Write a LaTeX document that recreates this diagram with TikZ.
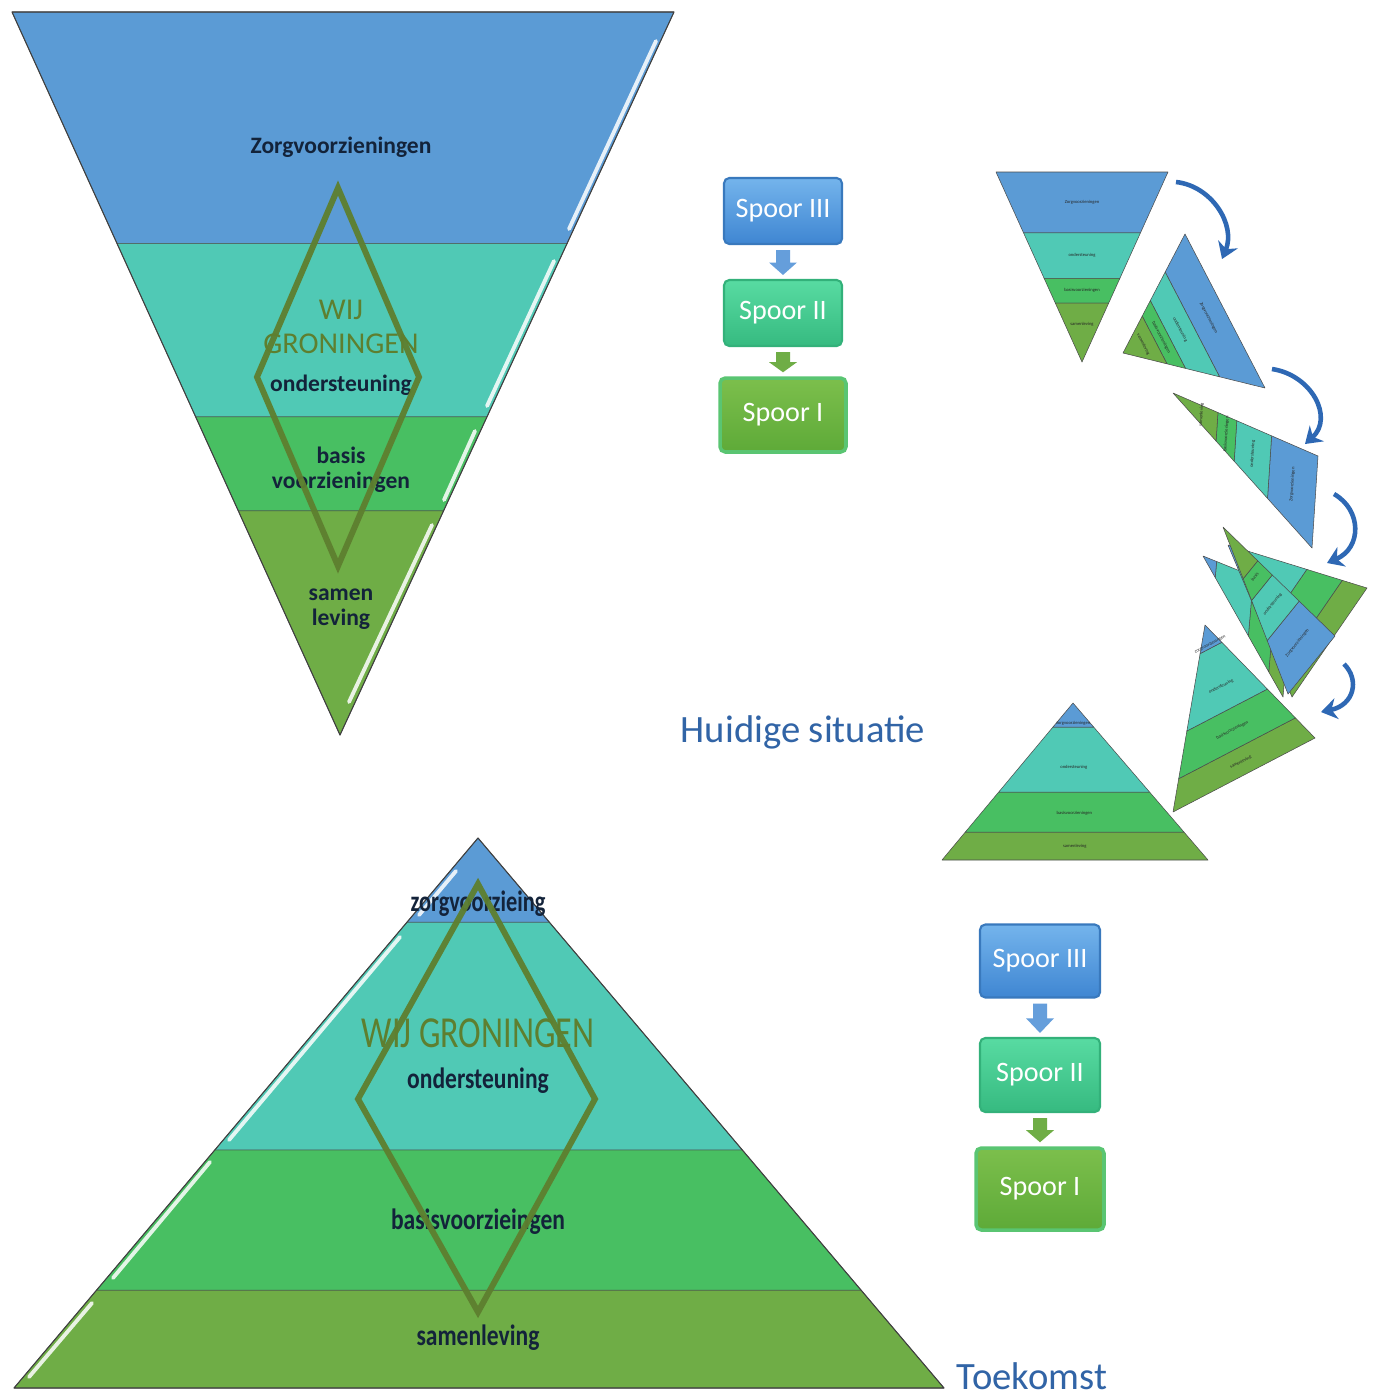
\documentclass[tikz,border=0pt]{standalone}
\usepackage{fontspec}
\setmainfont{Carlito}
\usetikzlibrary{calc,arrows.meta}
\definecolor{cblue}{HTML}{5B9BD5}
\definecolor{cteal}{HTML}{50C9B5}
\definecolor{cgreen}{HTML}{48BF62}
\definecolor{colive}{HTML}{6FAD46}
\definecolor{labc}{HTML}{13233A}
\definecolor{dia}{HTML}{5E7F2F}
\definecolor{titlec}{HTML}{3164A6}
\definecolor{arrc}{HTML}{2E68B4}
\definecolor{b3top}{HTML}{74B4EC}
\definecolor{b3bot}{HTML}{3F86D2}
\definecolor{b2top}{HTML}{58DBA2}
\definecolor{b2bot}{HTML}{36BA80}
\definecolor{b1top}{HTML}{7CBF4C}
\definecolor{b1bot}{HTML}{5EAA38}
\newcommand\bandpoly[6]{%
  \filldraw[band,fill=#6] ($(#1)!#4!(#3)$) -- ($(#2)!#4!(#3)$) -- ($(#2)!#5!(#3)$) -- ($(#1)!#5!(#3)$) -- cycle;}
\newcommand\invtri[3]{%
  \bandpoly{#1}{#2}{#3}{0}{0.32}{cblue}%
  \bandpoly{#1}{#2}{#3}{0.32}{0.56}{cteal}%
  \bandpoly{#1}{#2}{#3}{0.56}{0.69}{cgreen}%
  \bandpoly{#1}{#2}{#3}{0.69}{1}{colive}}
\newcommand\pyrtri[3]{%
  \bandpoly{#1}{#2}{#3}{0}{0.178}{colive}%
  \bandpoly{#1}{#2}{#3}{0.178}{0.433}{cgreen}%
  \bandpoly{#1}{#2}{#3}{0.433}{0.847}{cteal}%
  \bandpoly{#1}{#2}{#3}{0.847}{1}{cblue}}
\newcommand\blabel[6]{%
  \path ($(#2)!#5!(#4)$) -- ($(#3)!#5!(#4)$) node[midway,sloped,tinylab] (#1) {#6};}
\newcommand\invlabels[4]{%
  \blabel{#1-a}{#2}{#3}{#4}{0.16}{Zorgvoorzieningen}%
  \blabel{#1-b}{#2}{#3}{#4}{0.44}{ondersteuning}%
  \blabel{#1-c}{#2}{#3}{#4}{0.625}{basisvoorzieningen}%
  \blabel{#1-d}{#2}{#3}{#4}{0.8}{samenleving}}
\newcommand\pyrlabels[4]{%
  \blabel{#1-a}{#2}{#3}{#4}{0.085}{samenleving}%
  \blabel{#1-b}{#2}{#3}{#4}{0.30}{basisvoorzieningen}%
  \blabel{#1-c}{#2}{#3}{#4}{0.59}{ondersteuning}%
  \blabel{#1-d}{#2}{#3}{#4}{0.87}{zorgvoorzieningen}}
\newcommand\blockarrow[4]{%
  \coordinate (#1-t) at ($(#2.south)+(0,5)$);
  \coordinate (#1-u) at ($(#3.north)+(0,-4)$);
  \coordinate (#1-m) at ($(#1-t)!0.5!(#1-u)$);
  \fill[#4] ($(#1-t)+(-7,0)$) -- ($(#1-m)+(-7,0)$) -- ($(#1-m)+(-14,0)$) -- (#1-u) -- ($(#1-m)+(14,0)$) -- ($(#1-m)+(7,0)$) -- ($(#1-t)+(7,0)$) -- cycle;}
\tikzset{
  band/.style={draw=black!70,line width=0.3pt,line join=round},
  outline/.style={draw=black!75,line width=0.6pt,line join=round},
  gloss/.style={draw=white,opacity=0.85,line width=2.2pt,line cap=round},
  tinylab/.style={font=\fontsize{2.6}{3}\selectfont,text=black!85,inner sep=0pt},
  mainlab/.style={font=\bfseries\fontsize{13.4}{14.4}\selectfont,text=labc,align=center,inner sep=0pt},
  wijlab/.style={font=\fontsize{17.2}{19.4}\selectfont,text=dia,align=center,inner sep=0pt},
  diamond line/.style={draw=dia,line width=3.4pt,line join=miter,opacity=0.95},
  spoor/.style={rounded corners=3pt,line width=1.2pt,text=white,font=\fontsize{16}{18}\selectfont,inner sep=0pt},
  s3box/.style={spoor,draw=b3bot!90!black,top color=b3top,bottom color=b3bot},
  s2box/.style={spoor,draw=b2bot!95!black,top color=b2top,bottom color=b2bot},
  s1box/.style={spoor,line width=2pt,draw=cgreen!90!white,top color=b1top,bottom color=b1bot},
  carrow/.style={draw=arrc,line width=2.6pt,-{Stealth[length=9pt,width=12pt]}},
  title/.style={font=\fontsize{22}{24}\selectfont,text=titlec,inner sep=0pt}
}
\begin{document}
\begin{tikzpicture}[x=0.02cm,y=-0.02cm]
\useasboundingbox (0,0) rectangle (1378,1397);
\fill[white] (0,0) rectangle (1378,1397);

% ---------------- main inverted triangle (top left)
\coordinate (ma) at (12,12);
\coordinate (mb) at (674,12);
\coordinate (mc) at (340,735);
\invtri{ma}{mb}{mc}
\draw[outline] (ma) -- (mb) -- (mc) -- cycle;
\draw[gloss] (656,41) -- (569,229);
\draw[gloss] (554,261) -- (487,406);
\draw[gloss] (475,431) -- (444,500);
\draw[gloss] (432,525) -- (349,702);

\node[mainlab] (zorg1) at (341,147) {Zorgvoorzieningen};
\node[wijlab] (wij1) at (341,327) {WIJ\\GRONINGEN};
\node[mainlab] (ond1) at (341,385) {ondersteuning};
\node[mainlab] (bas1) at (341,470) {basis\\voorzieningen};
\node[mainlab] (sam1) at (341,609) {samen\\leving};

\coordinate (d1t) at (338,188);
\coordinate (d1r) at (419,377);
\coordinate (d1b) at (338,566);
\coordinate (d1l) at (257,377);
\draw[diamond line] (d1t) -- (d1r) -- (d1b) -- (d1l) -- cycle;

% ---------------- main pyramid (bottom left)
\coordinate (pa) at (14,1388);
\coordinate (pb) at (944,1388);
\coordinate (pc) at (478,838);
\pyrtri{pa}{pb}{pc}
\draw[outline] (pa) -- (pb) -- (pc) -- cycle;
\draw[gloss] (456,871) -- (419,915);
\draw[gloss] (400,937) -- (229,1140);
\draw[gloss] (210,1162) -- (113,1278);
\draw[gloss] (92,1303) -- (29,1377);

\node[mainlab] (zorg2) at (478,904) {\scalebox{0.95}[1.25]{zorgvoorzieing}};
\node[wijlab] (wij2) at (478,1033) {\scalebox{1}[1.3]{\fontsize{19.4}{21}\selectfont WIJ GRONINGEN}};
\node[mainlab] (ond2) at (478,1081) {\scalebox{1}[1.25]{ondersteuning}};
\node[mainlab] (bas2) at (478,1222) {\scalebox{1}[1.25]{basisvoorzieingen}};
\node[mainlab] (sam2) at (478,1338) {\scalebox{1}[1.25]{samenleving}};

\coordinate (d2t) at (478,884);
\coordinate (d2r) at (595,1099);
\coordinate (d2b) at (478,1312);
\coordinate (d2l) at (358,1099);
\draw[diamond line] (d2t) -- (d2r) -- (d2b) -- (d2l) -- cycle;

% ---------------- Spoor boxes (top)
\node[s3box,minimum width=2.36cm,minimum height=1.32cm] (s3a) at (783,211) {Spoor III};
\node[s2box,minimum width=2.36cm,minimum height=1.32cm] (s2a) at (783,313) {Spoor II};
\node[s1box,minimum width=2.52cm,minimum height=1.48cm] (s1a) at (783,415) {Spoor I};
\blockarrow{ar1}{s3a}{s2a}{b3bot!80!white}
\blockarrow{ar2}{s2a}{s1a}{colive}

% ---------------- Spoor boxes (bottom)
\node[s3box,minimum width=2.4cm,minimum height=1.46cm] (s3b) at (1040,961) {Spoor III};
\node[s2box,minimum width=2.4cm,minimum height=1.48cm] (s2b) at (1040,1075) {Spoor II};
\node[s1box,minimum width=2.56cm,minimum height=1.64cm] (s1b) at (1040,1189) {Spoor I};
\blockarrow{ar3}{s3b}{s2b}{b3bot!80!white}
\blockarrow{ar4}{s2b}{s1b}{colive}

% ---------------- titles
\node[title] (huidig) at (803,732) {Huidige situatie};
\node[title,anchor=base] (toek) at (1032,1389) {Toekomst};

% ---------------- rotating small triangles
% T1
\coordinate (t1a) at (996,172);
\coordinate (t1b) at (1168,172);
\coordinate (t1c) at (1082,362);
\invtri{t1a}{t1b}{t1c}
\invlabels{t1}{t1a}{t1b}{t1c}
% T2
\coordinate (t2a) at (1185,234);
\coordinate (t2b) at (1265,388);
\coordinate (t2c) at (1123,353);
\invtri{t2a}{t2b}{t2c}
\invlabels{t2}{t2a}{t2b}{t2c}
% T3
\coordinate (t3a) at (1318,456);
\coordinate (t3b) at (1312,548);
\coordinate (t3c) at (1173,393);
\invtri{t3a}{t3b}{t3c}
\invlabels{t3}{t3a}{t3b}{t3c}
% T4 cluster
\coordinate (t4pa) at (1283,697);
\coordinate (t4pb) at (1292,592);
\coordinate (t4pc) at (1203,556);
\pyrtri{t4pa}{t4pb}{t4pc}
\coordinate (t4ra) at (1367,588);
\coordinate (t4rb) at (1292,697);
\coordinate (t4rc) at (1228,545);
\pyrtri{t4ra}{t4rb}{t4rc}
\coordinate (t4qa) at (1335,636);
\coordinate (t4qb) at (1288,694);
\coordinate (t4qc) at (1223,527);
\invtri{t4qa}{t4qb}{t4qc}
\blabel{t4-a}{t4qa}{t4qb}{t4qc}{0.16}{Zorgvoorzieningen}
\blabel{t4-b}{t4qa}{t4qb}{t4qc}{0.44}{ondersteuning}
\blabel{t4-c}{t4qa}{t4qb}{t4qc}{0.64}{basis}
% T5
\coordinate (t5a) at (1173,812);
\coordinate (t5b) at (1315,738);
\coordinate (t5c) at (1205,625);
\pyrtri{t5a}{t5b}{t5c}
\pyrlabels{t5}{t5a}{t5b}{t5c}
% T6
\coordinate (t6a) at (942,860);
\coordinate (t6b) at (1208,860);
\coordinate (t6c) at (1073,703);
\pyrtri{t6a}{t6b}{t6c}
\pyrlabels{t6}{t6a}{t6b}{t6c}

% curved arrows
\coordinate (c1s) at (1176,182);
\coordinate (c1e) at (1222,259);
\draw[carrow] (c1s) .. controls (1212,186) and (1236,225) .. (c1e);
\coordinate (c2s) at (1272,369);
\coordinate (c2e) at (1305,444);
\draw[carrow] (c2s) .. controls (1312,375) and (1334,418) .. (c2e);
\coordinate (c3s) at (1334,494);
\coordinate (c3e) at (1327,563);
\draw[carrow] (c3s) .. controls (1362,510) and (1362,548) .. (c3e);
\coordinate (c4s) at (1344,664);
\coordinate (c4e) at (1321,712);
\draw[carrow] (c4s) .. controls (1360,680) and (1354,705) .. (c4e);
\end{tikzpicture}
\end{document}
